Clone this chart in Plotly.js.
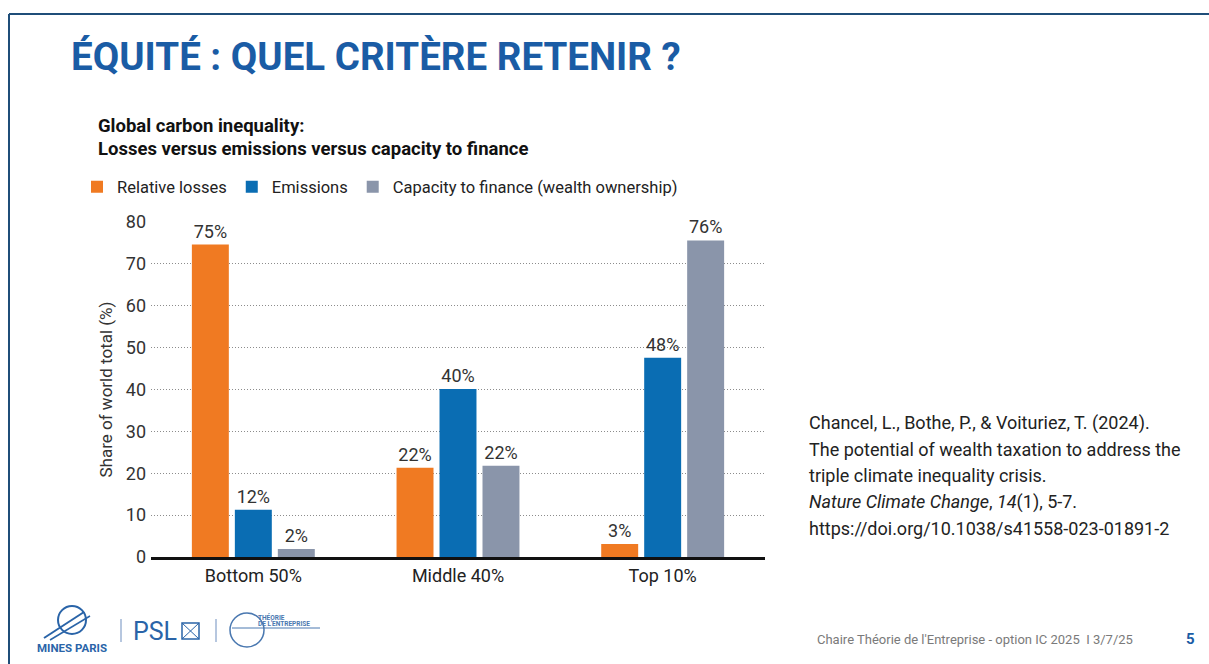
<!DOCTYPE html>
<html>
<head>
<meta charset="utf-8">
<script src="https://cdn.plot.ly/plotly-3.0.1.min.js"></script>
<style>html,body{margin:0;padding:0;background:#fff;}#chart{width:1209px;height:664px;}</style>
</head>
<body>
<div id="chart"></div>
<script>
// ---- Data ----
const categories = ["Bottom 50%", "Middle 40%", "Top 10%"];
const seriesNames = ["Relative losses", "Emissions", "Capacity to finance (wealth ownership)"];
const relativeLosses = [74.6, 21.3, 3.1];
const emissions = [11.3, 40.1, 47.6];
const capacityToFinance = [1.9, 21.8, 75.6];
const lossesLabels = ["75%", "22%", "3%"];
const emissionsLabels = ["12%", "40%", "48%"];
const capacityLabels = ["2%", "22%", "76%"];
const yTicks = [0, 10, 20, 30, 40, 50, 60, 70, 80];
const citationLines = [
  "Chancel, L., Bothe, P., & Voituriez, T. (2024).",
  "The potential of wealth taxation to address the",
  "triple climate inequality crisis.",
  "<i>Nature Climate Change</i>, <i>14</i>(1), 5-7.",
  "https://doi.org/10.1038/s41558-023-01891-2"
];

// ---- Layout helpers (pixel -> paper) ----
const L = 151, PW = 614, T = 222, PH = 335, W = 1209, H = 664;
const px = x => (x - L) / PW;
const py = y => (T + PH - y) / PH;

const colors = ["#f07a22", "#0a6db3", "#8a95aa"];
const textFont = {family: "Roboto, 'Noto Sans', sans-serif", size: 18, color: "#333"};

function barTrace(name, vals, labels, color) {
  return {
    type: "bar", name: name, x: categories, y: vals,
    text: labels, textposition: "outside", cliponaxis: false,
    textfont: textFont, marker: {color: color},
    hoverinfo: "x+y+name"
  };
}

const data = [
  barTrace(seriesNames[0], relativeLosses, lossesLabels, colors[0]),
  barTrace(seriesNames[1], emissions, emissionsLabels, colors[1]),
  barTrace(seriesNames[2], capacityToFinance, capacityLabels, colors[2])
];

const blue = "#1a5ca5";
const annotations = [
  {text: "<b>Global carbon inequality:</b>", x: px(96), y: py(126), xref: "paper", yref: "paper",
   xanchor: "left", yanchor: "middle", showarrow: false,
   font: {family: "Roboto, sans-serif", size: 18.5, color: "#111"}},
  {text: "<b>Losses versus emissions versus capacity to finance</b>", x: px(96), y: py(149), xref: "paper", yref: "paper",
   xanchor: "left", yanchor: "middle", showarrow: false,
   font: {family: "Roboto, sans-serif", size: 18.5, color: "#111"}},
  // footer
  {text: "Chaire Théorie de l'Entreprise - option IC 2025  I 3/7/25", x: px(815), y: py(639), xref: "paper", yref: "paper",
   xanchor: "left", yanchor: "middle", showarrow: false,
   font: {family: "Roboto, sans-serif", size: 13, color: "#7a7a7a"}},
  {text: "<b>5</b>", x: px(1190), y: py(639), xref: "paper", yref: "paper",
   xanchor: "center", yanchor: "middle", showarrow: false,
   font: {family: "Roboto, sans-serif", size: 15, color: blue}},
  // logos text
  {text: "<b>MINES PARIS</b>", x: px(72), y: py(648), xref: "paper", yref: "paper",
   xanchor: "center", yanchor: "middle", showarrow: false,
   font: {family: "Roboto, sans-serif", size: 11.5, color: "#2a64a8"}},
  {text: "PSL", x: px(155), y: py(631), xref: "paper", yref: "paper",
   xanchor: "center", yanchor: "middle", showarrow: false,
   font: {family: "Roboto, sans-serif", size: 25, color: "#2a64a8"}},
  {text: "<b>THÉORIE</b>", x: px(256), y: py(617), xref: "paper", yref: "paper",
   xanchor: "left", yanchor: "middle", showarrow: false,
   font: {family: "Roboto, sans-serif", size: 6.5, color: "#4a78b0"}},
  {text: "<b>DE L'ENTREPRISE</b>", x: px(256), y: py(624), xref: "paper", yref: "paper",
   xanchor: "left", yanchor: "middle", showarrow: false,
   font: {family: "Roboto, sans-serif", size: 6.5, color: "#4a78b0"}}
];
citationLines.forEach((t, i) => {
  annotations.push({text: t, x: px(807), y: py(423 + i * 26.3), xref: "paper", yref: "paper",
    xanchor: "left", yanchor: "middle", showarrow: false,
    font: {family: "Roboto, sans-serif", size: 18, color: "#222"}});
});

const shapes = [
  // slide frame
  {type: "line", xref: "paper", yref: "paper", x0: px(9), x1: px(1215), y0: py(14), y1: py(14), line: {color: "#1f4e79", width: 2}},
  {type: "line", xref: "paper", yref: "paper", x0: px(9), x1: px(9), y0: py(14), y1: py(670), line: {color: "#1f4e79", width: 2}},
  // logo separators
  {type: "line", xref: "paper", yref: "paper", x0: px(121), x1: px(121), y0: py(619), y1: py(642), line: {color: "#6f8fbf", width: 1}},
  {type: "line", xref: "paper", yref: "paper", x0: px(216), x1: px(216), y0: py(619), y1: py(642), line: {color: "#6f8fbf", width: 1}},
  // PSL box
  {type: "rect", xref: "paper", yref: "paper", x0: px(182), x1: px(199), y0: py(623), y1: py(639), line: {color: "#2a64a8", width: 1.5}},
  {type: "line", xref: "paper", yref: "paper", x0: px(182), x1: px(199), y0: py(623), y1: py(639), line: {color: "#2a64a8", width: 1}},
  {type: "line", xref: "paper", yref: "paper", x0: px(182), x1: px(199), y0: py(639), y1: py(623), line: {color: "#2a64a8", width: 1}},
  // mines globe
  {type: "circle", xref: "paper", yref: "paper", x0: px(58), x1: px(86), y0: py(606), y1: py(634), line: {color: "#2a64a8", width: 2}},
  {type: "line", xref: "paper", yref: "paper", x0: px(44), x1: px(84), y0: py(638), y1: py(612), line: {color: "#2a64a8", width: 2}},
  {type: "line", xref: "paper", yref: "paper", x0: px(50), x1: px(90), y0: py(640), y1: py(616), line: {color: "#2a64a8", width: 1.5}},
  // theorie circle
  {type: "circle", xref: "paper", yref: "paper", x0: px(230), x1: px(264), y0: py(613), y1: py(647), line: {color: "#4a78b0", width: 1.5}},
  {type: "line", xref: "paper", yref: "paper", x0: px(232), x1: px(320), y0: py(628), y1: py(628), line: {color: "#4a78b0", width: 1}}
];

const layout = {
  width: W, height: H,
  margin: {l: L, r: W - L - PW, t: T, b: H - T - PH, pad: 0},
  paper_bgcolor: "#fff", plot_bgcolor: "#fff",
  title: {
    text: "<b>ÉQUITÉ : QUEL CRITÈRE RETENIR ?</b>",
    x: 71 / W, xanchor: "left", xref: "container",
    y: 1 - 57 / H, yanchor: "middle", yref: "container",
    font: {family: "Roboto, sans-serif", size: 38.5, color: blue}
  },
  barmode: "group", bargap: 0.37, bargroupgap: 0.14,
  xaxis: {
    range: [-0.5, 2.5], showgrid: false, zeroline: false,
    showline: true, linecolor: "#111", linewidth: 3,
    ticks: "", tickfont: {family: "Roboto, sans-serif", size: 18, color: "#222"},
    fixedrange: true
  },
  yaxis: {
    range: [0, 80], tickvals: yTicks, ticks: "",
    showgrid: true, gridcolor: "#8c8c8c", griddash: "1px,2px", gridwidth: 1,
    zeroline: false, showline: false,
    tickfont: {family: "Roboto, sans-serif", size: 18, color: "#333"},
    ticklabelstandoff: 4,
    title: {text: "Share of world total (%)", standoff: 8,
            font: {family: "Roboto, sans-serif", size: 17, color: "#333"}},
    fixedrange: true
  },
  showlegend: true,
  legend: {
    orientation: "h", x: px(77), xanchor: "left", y: py(187), yanchor: "middle",
    font: {family: "Roboto, sans-serif", size: 16.5, color: "#222"},
    itemwidth: 30, traceorder: "normal", bgcolor: "rgba(0,0,0,0)"
  },
  annotations: annotations,
  shapes: shapes
};

Plotly.newPlot("chart", data, layout, {displayModeBar: false, responsive: false});
</script>
</body>
</html>
